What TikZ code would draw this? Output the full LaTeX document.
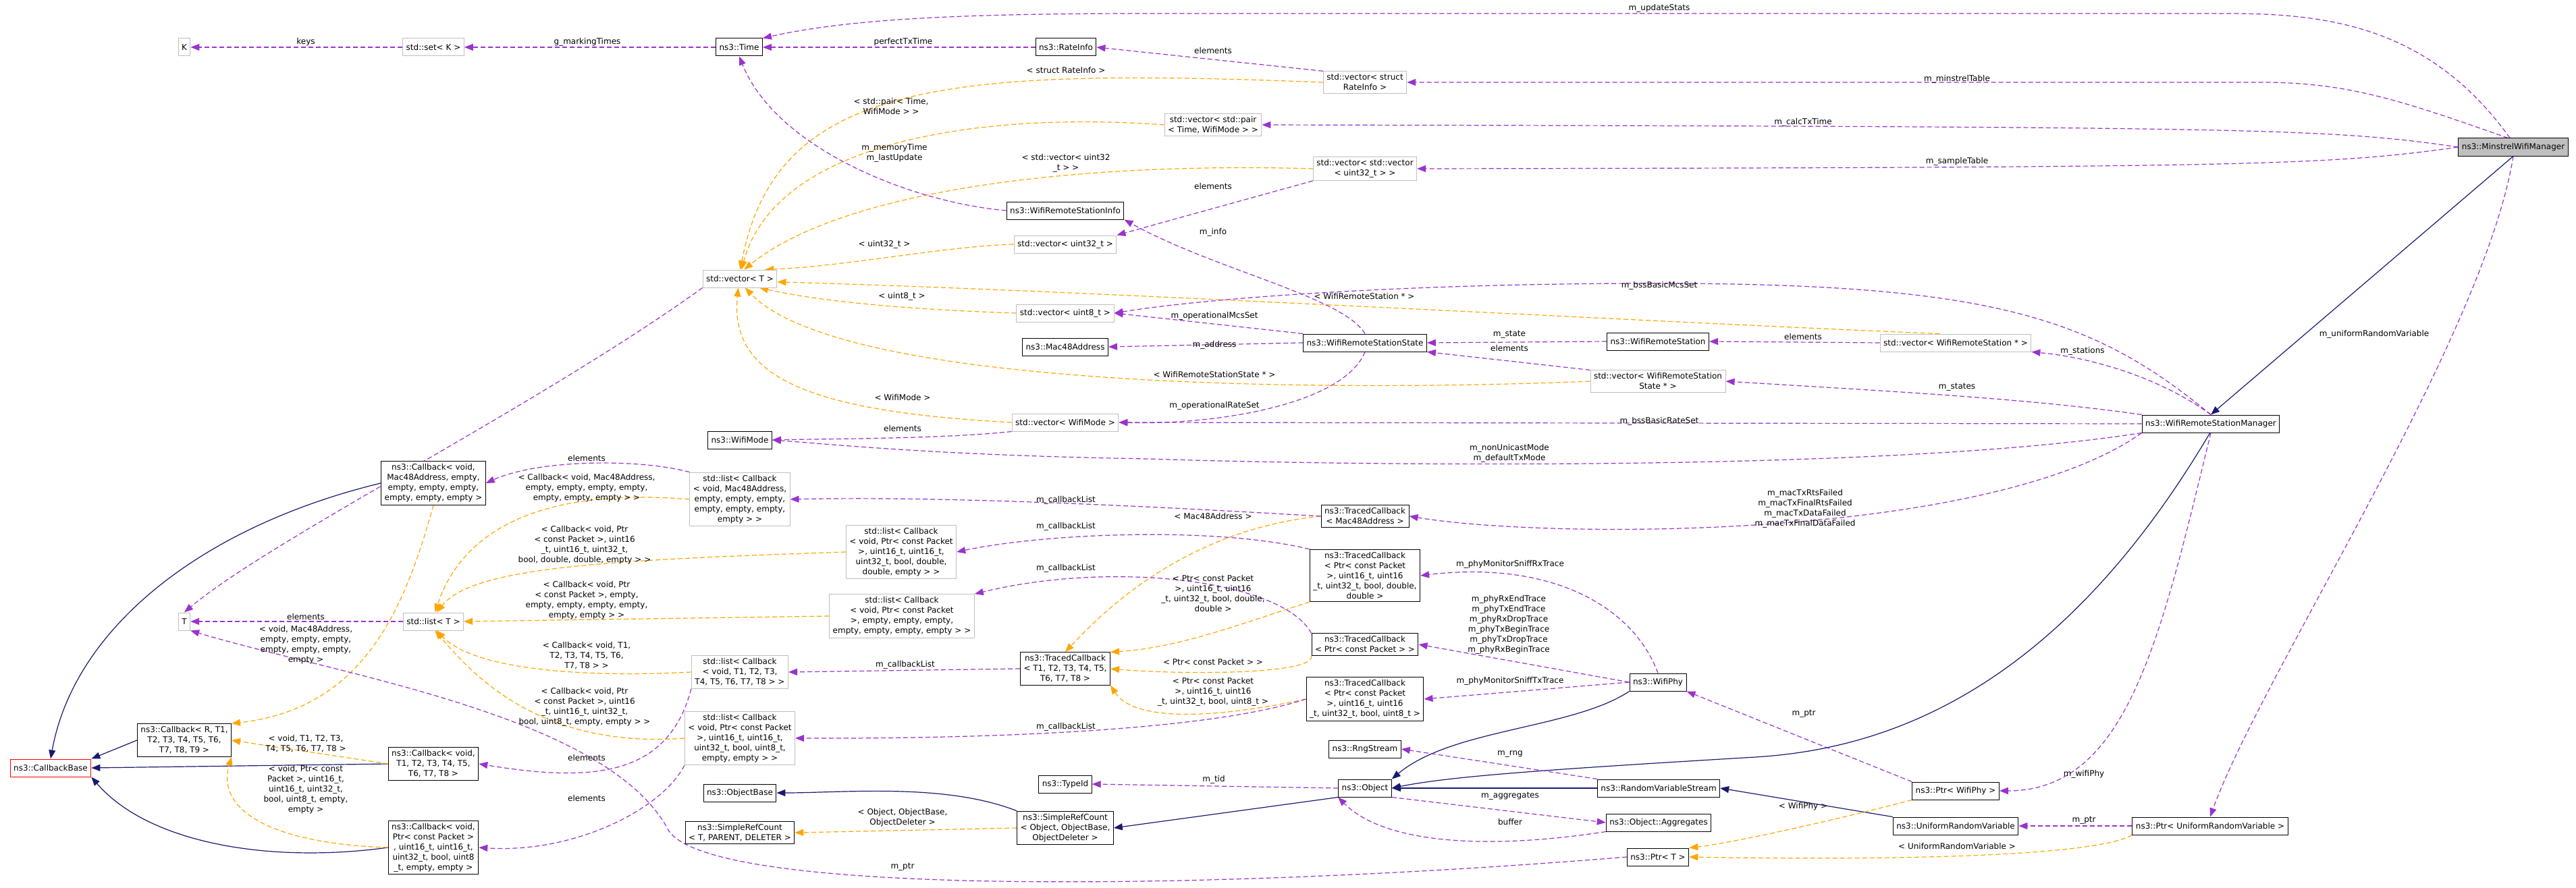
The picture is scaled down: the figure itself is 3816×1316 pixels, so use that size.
\documentclass[tikz,border=0pt]{standalone}
\usepackage{fontspec}
\setmainfont{DejaVu Sans}
\usetikzlibrary{arrows.meta,backgrounds}
\definecolor{pu}{HTML}{9A32CD}
\definecolor{og}{HTML}{FFA500}
\definecolor{nb}{HTML}{191970}
\definecolor{gbd}{HTML}{BFBFBF}
\begin{document}
\begin{tikzpicture}[x=1pt,y=-1pt,
  every node/.style={font=\fontsize{12}{15}\selectfont},
  nb0/.style={align=center,inner xsep=5pt,inner ysep=4pt,minimum height=26pt,fill=white},
  bb/.style={nb0,draw=black,line width=1pt},
  gb/.style={nb0,draw=gbd,line width=1pt},
  rb/.style={nb0,draw=red,line width=1pt},
  lbl/.style={align=center,inner sep=0pt},
  tip/.style={-{Triangle[length=13pt,width=10pt]}},
  pue/.style={tip,draw=pu,line width=1.2pt,dash pattern=on 7pt off 4pt},
  oge/.style={tip,draw=og,line width=1.2pt,dash pattern=on 7pt off 4pt},
  nbe/.style={tip,draw=nb,line width=1.2pt}]
\useasboundingbox (0,0) rectangle (3816,1316);
% nodes
\node[gb] (K) at (273,70) {K};
\node[gb] (setK) at (642,70) {std::set< K >};
\node[bb] (Time) at (1095,70) {ns3::Time};
\node[bb] (RateInfo) at (1579,70) {ns3::RateInfo};
\node[gb] (vRate) at (2022,122) {std::vector< struct\\RateInfo >};
\node[gb] (vPair) at (1797,185) {std::vector< std::pair\\< Time, WifiMode > >};
\node[gb] (vvU32) at (2022,250) {std::vector< std::vector\\< uint32\_t > >};
\node[bb] (WRSI) at (1578,312) {ns3::WifiRemoteStationInfo};
\node[gb] (vU32) at (1578,362) {std::vector< uint32\_t >};
\node[gb] (vT) at (1096,413) {std::vector< T >};
\node[gb] (vU8) at (1578,464) {std::vector< uint8\_t >};
\node[bb] (Mac48) at (1578,514) {ns3::Mac48Address};
\node[bb] (WRSS) at (2022,508) {ns3::WifiRemoteStationState};
\node[bb] (WRS) at (2456,506) {ns3::WifiRemoteStation};
\node[gb] (vWRSS) at (2456,565) {std::vector< WifiRemoteStation\\State * >};
\node[gb] (vWRS) at (2897,508) {std::vector< WifiRemoteStation * >};
\node[bb] (Mgr) at (3275,628) {ns3::WifiRemoteStationManager};
\node[bb,fill=gray!50] (Min) at (3723,218) {ns3::MinstrelWifiManager};
\node[gb] (vMode) at (1578,626) {std::vector< WifiMode >};
\node[bb] (Mode) at (1096,652) {ns3::WifiMode};
\node[bb] (CbMac) at (642,716) {ns3::Callback< void,\\Mac48Address, empty,\\empty, empty, empty,\\empty, empty, empty >};
\node[gb] (lMac) at (1096,740) {std::list< Callback\\< void, Mac48Address,\\empty, empty, empty,\\empty, empty, empty,\\empty > >};
\node[gb] (lDbl) at (1335,818) {std::list< Callback\\< void, Ptr< const Packet\\>, uint16\_t, uint16\_t,\\uint32\_t, bool, double,\\double, empty > >};
\node[gb] (lEmp) at (1336,913) {std::list< Callback\\< void, Ptr< const Packet\\>, empty, empty, empty,\\empty, empty, empty, empty > >};
\node[gb] (T) at (273,921) {T};
\node[gb] (lT) at (642,921) {std::list< T >};
\node[gb] (lT8) at (1096,996) {std::list< Callback\\< void, T1, T2, T3,\\T4, T5, T6, T7, T8 > >};
\node[gb] (lU8) at (1096,1094) {std::list< Callback\\< void, Ptr< const Packet\\>, uint16\_t, uint16\_t,\\uint32\_t, bool, uint8\_t,\\empty, empty > >};
\node[bb] (CbR) at (273,1097) {ns3::Callback< R, T1,\\T2, T3, T4, T5, T6,\\T7, T8, T9 >};
\node[rb] (CbB) at (75,1138) {ns3::CallbackBase};
\node[bb] (CbT8) at (642,1132) {ns3::Callback< void,\\T1, T2, T3, T4, T5,\\T6, T7, T8 >};
\node[bb] (CbU8) at (642,1256) {ns3::Callback< void,\\Ptr< const Packet >\\, uint16\_t, uint16\_t,\\uint32\_t, bool, uint8\\\_t, empty, empty >};
\node[bb] (ObjB) at (1096,1175) {ns3::ObjectBase};
\node[bb] (SRC) at (1096,1234) {ns3::SimpleRefCount\\< T, PARENT, DELETER >};
\node[bb] (TCMac) at (2022,765) {ns3::TracedCallback\\< Mac48Address >};
\node[bb] (TCDbl) at (2022,853) {ns3::TracedCallback\\< Ptr< const Packet\\>, uint16\_t, uint16\\\_t, uint32\_t, bool, double,\\double >};
\node[bb] (TCPkt) at (2022,955) {ns3::TracedCallback\\< Ptr< const Packet > >};
\node[bb] (TCT) at (1578,991) {ns3::TracedCallback\\< T1, T2, T3, T4, T5,\\T6, T7, T8 >};
\node[bb] (TCU8) at (2022,1036) {ns3::TracedCallback\\< Ptr< const Packet\\>, uint16\_t, uint16\\\_t, uint32\_t, bool, uint8\_t >};
\node[bb] (Phy) at (2456,1011) {ns3::WifiPhy};
\node[bb] (Rng) at (2022,1110) {ns3::RngStream};
\node[bb] (TypeId) at (1578,1162) {ns3::TypeId};
\node[bb] (Obj) at (2022,1168) {ns3::Object};
\node[bb] (RVS) at (2457,1168) {ns3::RandomVariableStream};
\node[bb] (Agg) at (2457,1219) {ns3::Object::Aggregates};
\node[bb] (SRCO) at (1578,1227) {ns3::SimpleRefCount\\< Object, ObjectBase,\\ObjectDeleter >};
\node[bb] (PtrT) at (2456,1270) {ns3::Ptr< T >};
\node[bb] (PtrPhy) at (2897,1172) {ns3::Ptr< WifiPhy >};
\node[bb] (URV) at (2897,1224) {ns3::UniformRandomVariable};
\node[bb] (PtrURV) at (3274,1224) {ns3::Ptr< UniformRandomVariable >};
\begin{pgfonlayer}{background}
% blue inheritance
\draw[nbe] (Min.south) -- (Mgr.north);
\draw[nbe] (Mgr.265) .. controls (3050,1020) and (2800,1110) .. (2600,1122) .. controls (2300,1140) and (2150,1150) .. (Obj.east);
\draw[nbe] (Phy.south west) .. controls (2330,1080) and (2150,1080) .. (Obj.north east);
\draw[nbe] (RVS.west) -- (Obj.east);
\draw[nbe] (URV.north west) -- (RVS.east);
\draw[nbe] (Obj.south west) -- (SRCO.east);
\draw[nbe] (SRCO.north west) .. controls (1400,1160) and (1250,1175) .. (ObjB.east);
\draw[nbe] (CbMac.west) .. controls (300,780) and (110,930) .. (CbB.north);
\draw[nbe] (CbR.west) -- (CbB.north east);
\draw[nbe] (CbT8.west) -- (CbB.east);
\draw[nbe] (CbU8.west) .. controls (400,1280) and (220,1250) .. (CbB.south east);
% orange template
\draw[oge] (vRate.west) .. controls (1400,100) and (1150,120) .. (vT.88);
\draw[oge] (vPair.west) .. controls (1450,165) and (1150,210) .. (vT.80);
\draw[oge] (vvU32.west) .. controls (1600,240) and (1250,280) .. (vT.65);
\draw[oge] (vU32.west) .. controls (1400,365) and (1250,395) .. (vT.20);
\draw[oge] (vU8.west) .. controls (1380,460) and (1230,450) .. (vT.-25);
\draw[oge] (vWRS.150) .. controls (2500,480) and (1600,430) .. (vT.-5);
\draw[oge] (vWRSS.west) .. controls (2000,580) and (1250,580) .. (vT.-60);
\draw[oge] (vMode.west) .. controls (1200,610) and (1080,560) .. (vT.-100);
\draw[oge] (lMac.west) .. controls (780,720) and (680,800) .. (lT.80);
\draw[oge] (lDbl.west) .. controls (900,830) and (700,840) .. (lT.70);
\draw[oge] (lEmp.west) -- (lT.east);
\draw[oge] (lT8.west) .. controls (850,1005) and (700,990) .. (lT.-70);
\draw[oge] (lU8.west) .. controls (800,1110) and (700,1000) .. (lT.-80);
\draw[oge] (CbMac.south) .. controls (600,900) and (540,1050) .. (CbR.north east);
\draw[oge] (CbT8.west) -- (CbR.east);
\draw[oge] (CbU8.west) .. controls (400,1250) and (320,1200) .. (CbR.south east);
\draw[oge] (TCMac.west) .. controls (1760,785) and (1640,900) .. (TCT.north);
\draw[oge] (TCDbl.south west) .. controls (1850,920) and (1750,960) .. (TCT.north east);
\draw[oge] (TCPkt.south west) .. controls (1950,1000) and (1750,1000) .. (TCT.east);
\draw[oge] (TCU8.west) .. controls (1800,1065) and (1680,1070) .. (TCT.south east);
\draw[oge] (SRCO.west) -- (SRC.east);
\draw[oge] (PtrPhy.south west) .. controls (2700,1220) and (2560,1250) .. (PtrT.north east);
\draw[oge] (PtrURV.south west) .. controls (3100,1270) and (2800,1275) .. (PtrT.east);
% purple usage
\draw[pue] (setK.west) -- (K.east);
\draw[pue] (Time.west) -- (setK.east);
\draw[pue] (RateInfo.west) -- (Time.east);
\draw[pue] (Min.110) .. controls (3600,40) and (3450,20) .. (3300,20) -- (1700,20) .. controls (1400,20) and (1250,30) .. (Time.north east);
\draw[pue] (vRate.north west) -- (RateInfo.east);
\draw[pue] (Min.120) .. controls (3560,150) and (3480,122) .. (3350,122) -- (vRate.east);
\draw[pue] (Min.west) .. controls (3450,190) and (3350,188) .. (vPair.east);
\draw[pue] (Min.west) .. controls (3450,245) and (3350,248) .. (vvU32.east);
\draw[pue] (WRSI.west) .. controls (1350,300) and (1150,220) .. (Time.south);
\draw[pue] (vvU32.south west) -- (vU32.north east);
\draw[pue] (WRSS.north) .. controls (1990,440) and (1800,400) .. (WRSI.south east);
\draw[pue] (Mgr.north) .. controls (3100,470) and (2950,420) .. (2450,420) .. controls (2100,420) and (1800,440) .. (vU8.east);
\draw[pue] (WRSS.north west) -- (vU8.east);
\draw[pue] (WRSS.west) -- (Mac48.east);
\draw[pue] (WRS.west) -- (WRSS.east);
\draw[pue] (vWRSS.north west) -- (WRSS.south east);
\draw[pue] (vWRS.west) -- (WRS.east);
\draw[pue] (Mgr.north) .. controls (3200,560) and (3100,530) .. (vWRS.south east);
\draw[pue] (Mgr.north west) .. controls (3000,590) and (2800,580) .. (vWRSS.east);
\draw[pue] (Mgr.west) -- (vMode.east);
\draw[pue] (Mgr.south west) .. controls (2800,700) and (2000,690) .. (1700,680) .. controls (1400,675) and (1250,660) .. (Mode.east);
\draw[pue] (WRSS.south) .. controls (1990,600) and (1800,630) .. (vMode.east);
\draw[pue] (vMode.south west) .. controls (1400,650) and (1250,650) .. (Mode.east);
\draw[pue] (vT.south west) .. controls (800,600) and (400,800) .. (T.north);
\draw[pue] (lT.west) -- (T.east);
\draw[pue] (PtrT.west) .. controls (1800,1320) and (1050,1330) .. (990,1230) .. controls (900,1060) and (500,1000) .. (T.south east);
\draw[pue] (lMac.north west) .. controls (950,680) and (800,680) .. (CbMac.east);
\draw[pue] (lT8.south west) .. controls (990,1150) and (880,1160) .. (CbT8.east);
\draw[pue] (lU8.south west) .. controls (980,1200) and (850,1265) .. (CbU8.east);
\draw[pue] (TCMac.west) .. controls (1700,750) and (1400,735) .. (lMac.east);
\draw[pue] (TCDbl.north west) .. controls (1800,780) and (1550,790) .. (lDbl.east);
\draw[pue] (TCPkt.north west) .. controls (1900,860) and (1650,830) .. (lEmp.north east);
\draw[pue] (TCT.west) -- (lT8.east);
\draw[pue] (TCU8.west) .. controls (1800,1080) and (1500,1095) .. (lU8.east);
\draw[pue] (Mgr.south west) .. controls (2950,800) and (2300,800) .. (TCMac.east);
\draw[pue] (Phy.north) .. controls (2420,900) and (2300,830) .. (TCDbl.east);
\draw[pue] (Phy.west) -- (TCPkt.east);
\draw[pue] (Phy.west) -- (TCU8.east);
\draw[pue] (Obj.west) -- (TypeId.east);
\draw[pue] (RVS.north west) -- (Rng.east);
\draw[pue] (Obj.south east) -- (Agg.west);
\draw[pue] (Agg.south west) .. controls (2200,1260) and (2050,1250) .. (Obj.south west);
\draw[pue] (PtrPhy.north west) -- (Phy.south east);
\draw[pue] (Mgr.south) .. controls (3200,950) and (3150,1172) .. (PtrPhy.east);
\draw[pue] (PtrURV.west) -- (URV.east);
\draw[pue] (Min.south) .. controls (3680,500) and (3350,1000) .. (PtrURV.north);
\end{pgfonlayer}
% labels
\node[lbl] (l1) at (453,62) {keys};
\node[lbl] (l2) at (870,62) {g\_markingTimes};
\node[lbl] (l3) at (1338,62) {perfectTxTime};
\node[lbl] (l4) at (2458,12) {m\_updateStats};
\node[lbl] (l5) at (1797,75) {elements};
\node[lbl] (l6) at (1579,104) {< struct RateInfo >};
\node[lbl] (l7) at (2899,117) {m\_minstrelTable};
\node[lbl] (l8) at (1320,158) {< std::pair< Time,\\WifiMode > >};
\node[lbl] (l9) at (2671,181) {m\_calcTxTime};
\node[lbl] (l10) at (1325,227) {m\_memoryTime\\m\_lastUpdate};
\node[lbl] (l11) at (1579,242) {< std::vector< uint32\\\_t > >};
\node[lbl] (l12) at (2899,239) {m\_sampleTable};
\node[lbl] (l13) at (1797,276) {elements};
\node[lbl] (l14) at (1797,344) {m\_info};
\node[lbl] (l15) at (1310,362) {< uint32\_t >};
\node[lbl] (l16) at (2458,423) {m\_bssBasicMcsSet};
\node[lbl] (l17) at (2021,439) {< WifiRemoteStation * >};
\node[lbl] (l18) at (1336,439) {< uint8\_t >};
\node[lbl] (l19) at (1799,468) {m\_operationalMcsSet};
\node[lbl] (l20) at (1799,511) {m\_address};
\node[lbl] (l21) at (2236,496) {m\_state};
\node[lbl] (l22) at (2236,516) {elements};
\node[lbl] (l23) at (2671,499) {elements};
\node[lbl] (l24) at (3085,520) {m\_stations};
\node[lbl] (l25) at (3517,495) {m\_uniformRandomVariable};
\node[lbl] (l26) at (1799,555) {< WifiRemoteStationState * >};
\node[lbl] (l27) at (2899,574) {m\_states};
\node[lbl] (l28) at (1337,589) {< WifiMode >};
\node[lbl] (l29) at (1799,601) {m\_operationalRateSet};
\node[lbl] (l30) at (1337,635) {elements};
\node[lbl] (l31) at (2458,624) {m\_bssBasicRateSet};
\node[lbl] (l32) at (2236,672) {m\_nonUnicastMode\\m\_defaultTxMode};
\node[lbl] (l33) at (869,679) {elements};
\node[lbl] (l34) at (869,723) {< Callback< void, Mac48Address,\\empty, empty, empty, empty,\\empty, empty, empty > >};
\node[lbl] (l35) at (2674,754) {m\_macTxRtsFailed\\m\_macTxFinalRtsFailed\\m\_macTxDataFailed\\m\_macTxFinalDataFailed};
\node[lbl] (l36) at (1579,741) {m\_callbackList};
\node[lbl] (l37) at (1797,765) {< Mac48Address >};
\node[lbl] (l38) at (1579,780) {m\_callbackList};
\node[lbl] (l39) at (866,808) {< Callback< void, Ptr\\< const Packet >, uint16\\\_t, uint16\_t, uint32\_t,\\bool, double, double, empty > >};
\node[lbl] (l40) at (2237,836) {m\_phyMonitorSniffRxTrace};
\node[lbl] (l41) at (1579,842) {m\_callbackList};
\node[lbl] (l42) at (1797,880) {< Ptr< const Packet\\>, uint16\_t, uint16\\\_t, uint32\_t, bool, double,\\double >};
\node[lbl] (l43) at (869,890) {< Callback< void, Ptr\\< const Packet >, empty,\\empty, empty, empty, empty,\\empty, empty > >};
\node[lbl] (l44) at (2235,926) {m\_phyRxEndTrace\\m\_phyTxEndTrace\\m\_phyRxDropTrace\\m\_phyTxBeginTrace\\m\_phyTxDropTrace\\m\_phyRxBeginTrace};
\node[lbl] (l45) at (453,914) {elements};
\node[lbl] (l46) at (453,956) {< void, Mac48Address,\\empty, empty, empty,\\empty, empty, empty,\\empty >};
\node[lbl] (l47) at (869,972) {< Callback< void, T1,\\T2, T3, T4, T5, T6,\\T7, T8 > >};
\node[lbl] (l48) at (1797,981) {< Ptr< const Packet > >};
\node[lbl] (l49) at (1341,985) {m\_callbackList};
\node[lbl] (l50) at (2237,1009) {m\_phyMonitorSniffTxTrace};
\node[lbl] (l51) at (1797,1025) {< Ptr< const Packet\\>, uint16\_t, uint16\\\_t, uint32\_t, bool, uint8\_t >};
\node[lbl] (l52) at (866,1048) {< Callback< void, Ptr\\< const Packet >, uint16\\\_t, uint16\_t, uint32\_t,\\bool, uint8\_t, empty, empty > >};
\node[lbl] (l53) at (2672,1058) {m\_ptr};
\node[lbl] (l54) at (1579,1077) {m\_callbackList};
\node[lbl] (l55) at (453,1102) {< void, T1, T2, T3,\\T4, T5, T6, T7, T8 >};
\node[lbl] (l56) at (2237,1118) {m\_rng};
\node[lbl] (l57) at (869,1123) {elements};
\node[lbl] (l58) at (3087,1147) {m\_wifiPhy};
\node[lbl] (l59) at (1798,1155) {m\_tid};
\node[lbl] (l60) at (453,1170) {< void, Ptr< const\\Packet >, uint16\_t,\\uint16\_t, uint32\_t,\\bool, uint8\_t, empty,\\empty >};
\node[lbl] (l61) at (2237,1180) {m\_aggregates};
\node[lbl] (l62) at (869,1183) {elements};
\node[lbl] (l63) at (2671,1195) {< WifiPhy >};
\node[lbl] (l64) at (1337,1212) {< Object, ObjectBase,\\ObjectDeleter >};
\node[lbl] (l65) at (3087,1216) {m\_ptr};
\node[lbl] (l66) at (2237,1218) {buffer};
\node[lbl] (l67) at (2899,1254) {< UniformRandomVariable >};
\node[lbl] (l68) at (1337,1285) {m\_ptr};
\end{tikzpicture}
\end{document}
